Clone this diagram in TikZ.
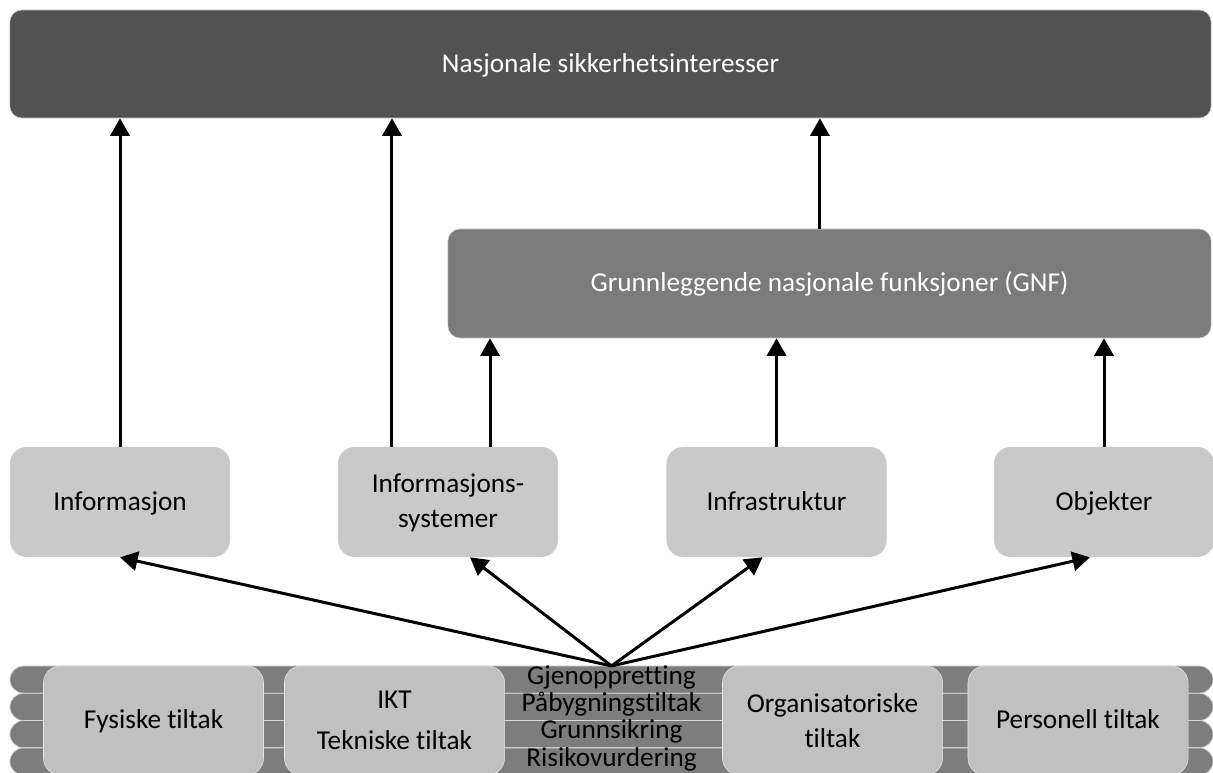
\documentclass[tikz,border=0pt]{standalone}
\usepackage{fontspec}
\setmainfont{Carlito}[Ligatures={NoCommon}]
\usetikzlibrary{arrows.meta, positioning}
\definecolor{nasjcolor}{RGB}{82,82,82}
\definecolor{gnfcolor}{RGB}{123,123,123}
\definecolor{verdicolor}{RGB}{201,201,201}
\definecolor{lagcolor}{RGB}{125,125,125}
\definecolor{tiltakcolor}{RGB}{192,192,192}

\begin{document}
\begin{tikzpicture}[
    x=0.025cm, y=-0.025cm,
    txt/.style={font=\fontsize{19.4}{25}\selectfont},
    oneline/.style={text height=14pt, text depth=2pt},
    nasjonal/.style={rectangle, rounded corners=0.3cm, draw=gray!35, fill=nasjcolor, text=white, minimum width=30.025cm, minimum height=2.7cm, oneline, txt},
    gnfbox/.style={rectangle, rounded corners=0.3cm, draw=gray!35, fill=gnfcolor, text=white, minimum width=19.075cm, minimum height=2.725cm, oneline, txt},
    verdi/.style={rectangle, rounded corners=0.42cm, fill=verdicolor, minimum width=5.5cm, minimum height=2.75cm, align=center, txt},
    lag/.style={rectangle, rounded corners=0.34cm, draw=white!85!black, line width=0.6pt, fill=lagcolor, minimum width=30.075cm, minimum height=0.6825cm, inner sep=0pt, outer sep=0pt, text height=1.8ex, text depth=0.4ex, txt},
    tiltak/.style={rectangle, rounded corners=0.42cm, draw=white!90!black, fill=tiltakcolor, minimum width=5.5cm, minimum height=2.725cm, align=center, txt},
    arrow/.style={-{Triangle[length=0.44cm, width=0.48cm]}, line width=0.075cm}
]
    \useasboundingbox (0,0) rectangle (1213,773);

    % Top level
    \node[nasjonal] (nasj) at (610.5,64) {Nasjonale sikkerhetsinteresser};
    \node[gnfbox] (gnf) at (829.5,283.5) {Grunnleggende nasjonale funksjoner (GNF)};

    % Values to protect
    \node[verdi, oneline] (info) at (120,502) {Informasjon};
    \node[verdi] (infosys) at (448,502) {\rule{0pt}{15pt}Informasjons-\\systemer};
    \node[verdi, oneline] (infra) at (776.5,502) {Infrastruktur};
    \node[verdi, oneline] (obj) at (1104,502) {Objekter};

    % Layers
    \node[lag] (gjen) at (611.5,679.6) {Gjenoppretting};
    \node[lag, below=0cm of gjen] (paab) {Påbygningstiltak};
    \node[lag, below=0cm of paab] (grunn) {Grunnsikring};
    \node[lag, below=0cm of grunn] (risiko) {Risikovurdering};

    % Measures
    \node[tiltak, oneline] (fys) at (153.5,720.5) {Fysiske tiltak};
    \node[tiltak] (ikt) at (394.5,720.5) {IKT\\[4pt]Tekniske tiltak};
    \node[tiltak] (org) at (832.5,720.5) {Organisatoriske\\tiltak};
    \node[tiltak, oneline] (pers) at (1078,720.5) {Personell tiltak};

    % Upward arrows
    \coordinate (isl) at ([xshift=-1.4cm]infosys.north);
    \coordinate (isr) at ([xshift=1.05cm]infosys.north);
    \coordinate (gnfup) at ([xshift=-0.24cm]gnf.north);
    \draw[arrow] (info.north) -- (info.north |- nasj.south);
    \draw[arrow] (isl) -- (isl |- nasj.south);
    \draw[arrow] (isr) -- (isr |- gnf.south);
    \draw[arrow] (infra.north) -- (infra.north |- gnf.south);
    \draw[arrow] (obj.north) -- (obj.north |- gnf.south);
    \draw[arrow] (gnfup) -- (gnfup |- nasj.south);

    % Arrows from the layers
    \draw[arrow] (gjen.north) -- (info.south);
    \draw[arrow] (gjen.north) -- ([xshift=0.55cm]infosys.south);
    \draw[arrow] (gjen.north) -- ([xshift=-0.35cm]infra.south);
    \draw[arrow] (gjen.north) -- ([xshift=-0.35cm]obj.south);

\end{tikzpicture}
\end{document}
